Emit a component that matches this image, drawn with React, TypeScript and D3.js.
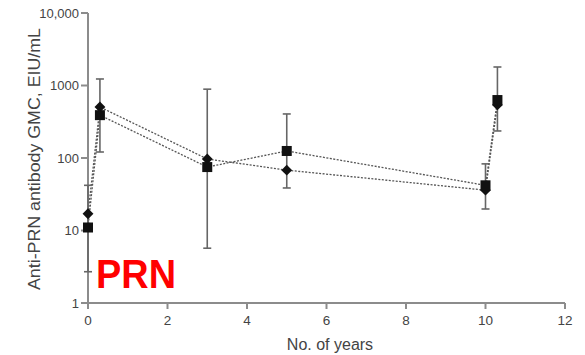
import React, {useEffect, useRef} from 'react';
import * as d3 from 'd3';

// time points (years)
const years = [0, 0.3, 3, 5, 10, 10.3];
// square series (with error bars)
const squareGmc = [11, 390, 75, 125, 42, 630];
const squareLow = [2.7, 121, 5.7, 38.6, 19.8, 236];
const squareHigh = [42, 1230, 890, 405, 83, 1800];
// diamond series
const diamondGmc = [17, 505, 97, 68, 36, 540];

const xTicks = [0, 2, 4, 6, 8, 10, 12];
const yTicks = [1, 10, 100, 1000, 10000];
const yTickLabels = ['1', '10', '100', '1000', '10,000'];

const W = 585;
const H = 355;

const App: React.FC = () => {
  const ref = useRef<SVGSVGElement | null>(null);

  useEffect(() => {
    if (!ref.current) return;
    const svg = d3.select(ref.current);
    svg.selectAll('*').remove();

    const left = 88, right = 565, top = 13, bottom = 303;
    const x = d3.scaleLinear().domain([0, 12]).range([left, right]);
    const y = d3.scaleLog().domain([1, 10000]).range([bottom, top]);

    const axisColor = '#8c8c8c';
    const textColor = '#444';
    const font = 'Liberation Sans, Arial, sans-serif';

    // axes
    const g = svg.append('g');
    g.append('line')
      .attr('x1', left).attr('x2', left)
      .attr('y1', top).attr('y2', bottom)
      .attr('stroke', axisColor).attr('stroke-width', 2);
    g.append('line')
      .attr('x1', left).attr('x2', right)
      .attr('y1', bottom).attr('y2', bottom)
      .attr('stroke', axisColor).attr('stroke-width', 2);

    yTicks.forEach((v, i) => {
      g.append('line')
        .attr('x1', left - 7).attr('x2', left)
        .attr('y1', y(v)).attr('y2', y(v))
        .attr('stroke', axisColor).attr('stroke-width', 2);
      g.append('text')
        .attr('x', left - 9).attr('y', y(v))
        .attr('dy', '0.35em')
        .attr('text-anchor', 'end')
        .attr('font-family', font).attr('font-size', 13)
        .attr('fill', textColor)
        .text(yTickLabels[i]);
    });

    xTicks.forEach((v) => {
      g.append('line')
        .attr('x1', x(v)).attr('x2', x(v))
        .attr('y1', bottom).attr('y2', bottom + 6)
        .attr('stroke', axisColor).attr('stroke-width', 2);
      g.append('text')
        .attr('x', x(v)).attr('y', 325)
        .attr('text-anchor', 'middle')
        .attr('font-family', font).attr('font-size', 13.5)
        .attr('fill', textColor)
        .text(v);
    });

    // axis titles
    g.append('text')
      .attr('x', 330).attr('y', 350)
      .attr('text-anchor', 'middle')
      .attr('font-family', font).attr('font-size', 16)
      .attr('fill', textColor)
      .text('No. of years');
    g.append('text')
      .attr('transform', 'translate(40,159) rotate(-90)')
      .attr('text-anchor', 'middle')
      .attr('font-family', font).attr('font-size', 16.5)
      .attr('fill', textColor)
      .attr('textLength', 262)
      .attr('lengthAdjust', 'spacingAndGlyphs')
      .text('Anti-PRN antibody GMC, EIU/mL');

    // lines
    const line = d3.line<number>()
      .x((_, i) => x(years[i]))
      .y((d) => y(d));

    [squareGmc, diamondGmc].forEach((s) => {
      svg.append('path')
        .attr('d', line(s))
        .attr('fill', 'none')
        .attr('stroke', '#555')
        .attr('stroke-width', 1.3)
        .attr('stroke-dasharray', '2,1.5');
    });

    // error bars (square series)
    const eb = svg.append('g').attr('stroke', '#666').attr('stroke-width', 1.6);
    years.forEach((t, i) => {
      const cx = x(t);
      eb.append('line')
        .attr('x1', cx).attr('x2', cx)
        .attr('y1', y(squareLow[i])).attr('y2', y(squareHigh[i]));
      [squareLow[i], squareHigh[i]].forEach((v) => {
        eb.append('line')
          .attr('x1', cx - 4).attr('x2', cx + 4)
          .attr('y1', y(v)).attr('y2', y(v));
      });
    });

    // markers
    svg.append('g')
      .selectAll('path')
      .data(diamondGmc)
      .join('path')
      .attr('d', d3.symbol(d3.symbolDiamond2, 75)() as string)
      .attr('transform', (d, i) => `translate(${x(years[i])},${y(d)})`)
      .attr('fill', '#111');
    svg.append('g')
      .selectAll('rect')
      .data(squareGmc)
      .join('rect')
      .attr('x', (_, i) => x(years[i]) - 5)
      .attr('y', (d) => y(d) - 5)
      .attr('width', 10).attr('height', 10)
      .attr('fill', '#111');

    // panel label
    svg.append('text')
      .attr('x', 96).attr('y', 288)
      .attr('font-family', font).attr('font-weight', 'bold')
      .attr('font-size', 41)
      .attr('textLength', 80)
      .attr('lengthAdjust', 'spacingAndGlyphs')
      .attr('fill', '#ff0000')
      .text('PRN');
  }, []);

  return (
    <svg
      ref={ref}
      width={W}
      height={H}
      style={{position: 'absolute', left: 0, top: 0, background: '#fff'}}
    />
  );
};

export default App;
